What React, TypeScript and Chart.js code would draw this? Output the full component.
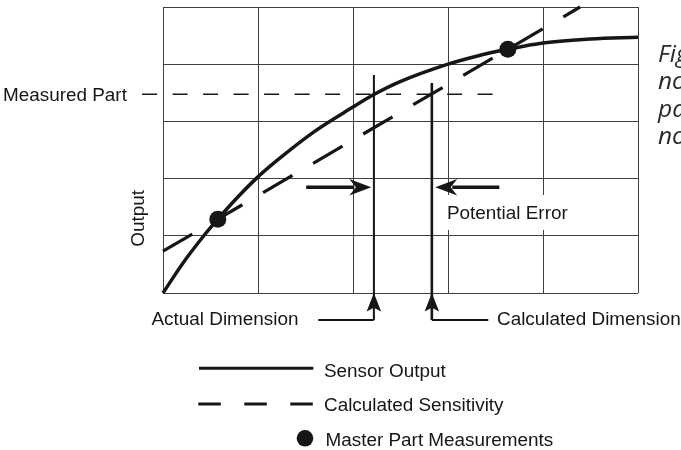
import React, { useEffect, useRef } from "react";
import { Chart, registerables } from "chart.js";

Chart.register(...registerables);

// ---------- data ----------
const sensorX = [0, 0.2, 0.4, 0.577, 0.8, 0.98, 1.21, 1.6, 2.0, 2.21, 2.49, 3.0, 3.3, 3.63, 4.0, 4.5, 5.0];
const sensorY = [0, 0.5, 0.94, 1.29, 1.7, 2.0, 2.33, 2.83, 3.25, 3.46, 3.69, 4.0, 4.14, 4.26, 4.37, 4.44, 4.47];

const masterX = [0.577, 3.63];
const masterY = [1.29, 4.26];

const sensitivityX = [0, 4.39];
const sensitivityY = [0.73, 5.0];

const measuredPartY = 3.474;
const measuredPartX = [-0.22, 3.475];

const actualDimension = 2.22;
const actualTop = 3.81;
const calculatedDimension = 2.83;
const calculatedTop = 3.67;
const leaderY = -0.472;

const potentialErrorY = 1.848;
const potentialErrorTails = [1.507, 3.54];

const axisMin = 0;
const axisMax = 5;

const legendLabels = ["Sensor Output", "Calculated Sensitivity", "Master Part Measurements"];
const captionLines = ["Figure 4: Sensor", "non-linearity causes", "part measurement", "non-linearity errors"];

// ---------- styles ----------
const INK = "#161616";
const FONT = '18.9px "Liberation Sans", Arial, sans-serif';

function arrowHead(ctx: CanvasRenderingContext2D, tx: number, ty: number, dx: number, dy: number, L: number, W: number, notch: number) {
  const px = -dy, py = dx;
  const bx = tx - dx * L, by = ty - dy * L;
  ctx.beginPath();
  ctx.moveTo(tx, ty);
  ctx.lineTo(bx + px * W / 2, by + py * W / 2);
  ctx.lineTo(tx - dx * L * (1 - notch), ty - dy * L * (1 - notch));
  ctx.lineTo(bx - px * W / 2, by - py * W / 2);
  ctx.closePath();
  ctx.fill();
}

const overlayPlugin = {
  id: "overlay",
  beforeDatasetsDraw(chart: any) {
    const ctx: CanvasRenderingContext2D = chart.ctx;
    ctx.save();
    ctx.font = FONT;
    const w = ctx.measureText("Potential Error").width;
    ctx.fillStyle = "#ffffff";
    ctx.fillRect(446, 195, w + 6, 35);
    ctx.restore();
  },
  afterDatasetsDraw(chart: any) {
    const ctx: CanvasRenderingContext2D = chart.ctx;
    const xs = chart.scales.x;
    const ys = chart.scales.y;
    const ax = xs.getPixelForValue(actualDimension);
    const cx = xs.getPixelForValue(calculatedDimension);
    const y0 = ys.getPixelForValue(axisMin);
    const ly = ys.getPixelForValue(leaderY);
    const py = ys.getPixelForValue(potentialErrorY);

    ctx.save();
    ctx.fillStyle = INK;
    ctx.strokeStyle = INK;

    // leader lines below the axis
    ctx.lineWidth = 1.8;
    ctx.beginPath();
    ctx.moveTo(318.3, ly);
    ctx.lineTo(ax, ly);
    ctx.moveTo(cx, ly);
    ctx.lineTo(488.3, ly);
    ctx.stroke();

    // upward arrowheads at the axis
    arrowHead(ctx, ax, y0, 0, -1, 18.5, 14.5, 0.2);
    arrowHead(ctx, cx, y0, 0, -1, 18.5, 14.5, 0.2);

    // potential error arrows
    const lt = xs.getPixelForValue(potentialErrorTails[0]);
    const rt = xs.getPixelForValue(potentialErrorTails[1]);
    ctx.lineWidth = 3.6;
    ctx.beginPath();
    ctx.moveTo(lt, py);
    ctx.lineTo(ax - 2.6 - 17, py);
    ctx.moveTo(rt, py);
    ctx.lineTo(cx + 3.4 + 17, py);
    ctx.stroke();
    arrowHead(ctx, ax - 2.6, py, 1, 0, 22, 16.5, 0.3);
    arrowHead(ctx, cx + 3.4, py, -1, 0, 22, 16.5, 0.3);

    // texts
    ctx.font = FONT;
    ctx.textBaseline = "alphabetic";
    ctx.textAlign = "left";
    ctx.fillText("Measured Part", 3, 100.7);
    ctx.fillText("Actual Dimension", 151.5, 325);
    ctx.fillText("Calculated Dimension", 497, 325);
    ctx.fillText("Potential Error", 447, 219.3);

    // rotated axis label
    ctx.save();
    ctx.translate(143.5, 218.3);
    ctx.rotate(-Math.PI / 2);
    ctx.textAlign = "center";
    ctx.fillText("Output", 0, 0);
    ctx.restore();

    // legend
    ctx.lineWidth = 3;
    ctx.beginPath();
    ctx.moveTo(199, 368.3);
    ctx.lineTo(313.3, 368.3);
    ctx.stroke();
    ctx.setLineDash([22.5, 23.5]);
    ctx.beginPath();
    ctx.moveTo(198.3, 404);
    ctx.lineTo(313.3, 404);
    ctx.stroke();
    ctx.setLineDash([]);
    ctx.beginPath();
    ctx.arc(305, 438.3, 8.3, 0, Math.PI * 2);
    ctx.fill();
    ctx.fillText(legendLabels[0], 324, 376.7);
    ctx.fillText(legendLabels[1], 324, 410.7);
    ctx.fillText(legendLabels[2], 325.5, 446);

    // caption at the right (clipped by the canvas edge)
    ctx.fillStyle = "#2a2a2a";
    ctx.font = 'italic 24.5px "Open Sans", "Noto Sans", sans-serif';
    const baselines = [61.7, 89, 116.7, 144];
    captionLines.forEach((t, i) => ctx.fillText(t, 658, baselines[i]));
    ctx.restore();
  },
};

export default function App() {
  const ref = useRef<HTMLCanvasElement | null>(null);

  useEffect(() => {
    if (!ref.current) return;
    const pts = (xa: number[], ya: number[]) => xa.map((x, i) => ({ x, y: ya[i] }));
    const chart = new Chart(ref.current, {
      type: "scatter",
      data: {
        datasets: [
          {
            label: legendLabels[2],
            data: pts(masterX, masterY),
            pointRadius: 8.5,
            pointBackgroundColor: INK,
            pointBorderWidth: 0,
            showLine: false,
            clip: false,
          } as any,
          {
            label: legendLabels[0],
            data: pts(sensorX, sensorY),
            showLine: true,
            borderColor: INK,
            borderWidth: 3.5,
            pointRadius: 0,
            cubicInterpolationMode: "monotone",
            clip: false,
          },
          {
            label: legendLabels[1],
            data: pts(sensitivityX, sensitivityY),
            showLine: true,
            borderColor: INK,
            borderWidth: 3.2,
            borderDash: [34, 24],
            borderCapStyle: "butt",
            pointRadius: 0,
            clip: false,
          },
          {
            label: "Measured Part",
            data: pts(measuredPartX, [measuredPartY, measuredPartY]),
            showLine: true,
            borderColor: INK,
            borderWidth: 1.6,
            borderDash: [15, 15.5],
            pointRadius: 0,
            clip: false,
          },
          {
            label: "Actual Dimension",
            data: pts([actualDimension, actualDimension], [actualTop, leaderY]),
            showLine: true,
            borderColor: INK,
            borderWidth: 2,
            pointRadius: 0,
            clip: false,
          },
          {
            label: "Calculated Dimension",
            data: pts([calculatedDimension, calculatedDimension], [calculatedTop, leaderY]),
            showLine: true,
            borderColor: INK,
            borderWidth: 2.6,
            pointRadius: 0,
            clip: false,
          },
        ],
      },
      options: {
        animation: false,
        responsive: false,
        devicePixelRatio: 1,
        layout: { autoPadding: false, padding: { left: 163, top: 7, right: 43, bottom: 157 } },
        plugins: { legend: { display: false }, tooltip: { enabled: false } },
        events: [],
        scales: {
          x: {
            type: "linear",
            min: axisMin,
            max: axisMax,
            ticks: { display: false, stepSize: 1 },
            grid: { color: "#3f3f3f", lineWidth: 1, drawTicks: false },
            border: { display: false },
          },
          y: {
            type: "linear",
            min: axisMin,
            max: axisMax,
            ticks: { display: false, stepSize: 1 },
            grid: { color: "#3f3f3f", lineWidth: 1, drawTicks: false },
            border: { display: false },
          },
        },
      } as any,
      plugins: [overlayPlugin],
    });
    return () => chart.destroy();
  }, []);

  return (
    <div style={{ position: "fixed", left: 0, top: 0, width: 681, height: 450, background: "#fff", overflow: "hidden" }}>
      <canvas ref={ref} width={681} height={450} style={{ display: "block" }} />
    </div>
  );
}
